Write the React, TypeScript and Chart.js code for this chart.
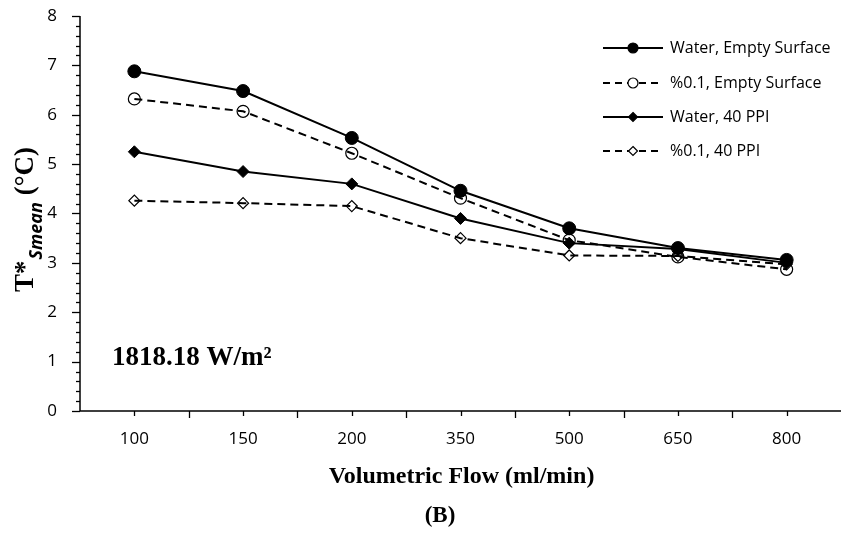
import React, { useEffect, useRef } from "react";
import { Chart, registerables } from "chart.js";

Chart.register(...registerables);

const categories = ["100", "150", "200", "350", "500", "650", "800"];
const waterEmpty = [6.88, 6.48, 5.53, 4.46, 3.7, 3.3, 3.06];
const nanoEmpty = [6.32, 6.07, 5.22, 4.31, 3.46, 3.12, 2.87];
const water40 = [5.25, 4.85, 4.6, 3.9, 3.4, 3.28, 3.0];
const nano40 = [4.26, 4.21, 4.15, 3.5, 3.15, 3.14, 2.97];
const seriesNames = ["Water, Empty Surface", "%0.1, Empty Surface", "Water, 40 PPI", "%0.1, 40 PPI"];
const yMin = 0;
const yMax = 8;
const annotationText = "1818.18 W/m²";
const xTitle = "Volumetric Flow (ml/min)";
const yTitleMain = "T*";
const yTitleSub = "Smean";
const yTitleUnit = " (°C)";
const panelLabel = "(B)";

const SERIF = '"Liberation Serif", "Times New Roman", serif';
const SANS = '"Open Sans", "Liberation Sans", sans-serif';

function drawMarker(ctx: CanvasRenderingContext2D, style: string, x: number, y: number, r: number, fill: string, stroke: string, lw: number) {
  ctx.save();
  ctx.beginPath();
  if (style === "circle") {
    ctx.arc(x, y, r, 0, Math.PI * 2);
  } else {
    ctx.moveTo(x, y - r);
    ctx.lineTo(x + r, y);
    ctx.lineTo(x, y + r);
    ctx.lineTo(x - r, y);
    ctx.closePath();
  }
  if (fill !== "transparent") {
    ctx.fillStyle = fill;
    ctx.fill();
  }
  ctx.lineWidth = lw;
  ctx.strokeStyle = stroke;
  ctx.stroke();
  ctx.restore();
}

const decorPlugin = {
  id: "decor",
  afterDraw(chart: any) {
    const ctx: CanvasRenderingContext2D = chart.ctx;
    const { left, right, top, bottom } = chart.chartArea;
    const xs = chart.scales.x;
    const ys = chart.scales.y;
    ctx.save();
    ctx.strokeStyle = "#000";
    ctx.lineWidth = 1.5;
    ctx.beginPath();
    ctx.moveTo(left, top);
    ctx.lineTo(left, bottom);
    ctx.lineTo(right, bottom);
    ctx.stroke();
    ctx.lineWidth = 1.3;
    for (let v = yMin; v <= yMax + 1e-9; v += 0.2) {
      const py = Math.round(ys.getPixelForValue(v)) + 0.5;
      const major = Math.abs(v - Math.round(v)) < 1e-6;
      ctx.beginPath();
      ctx.moveTo(left - (major ? 8 : 4), py);
      ctx.lineTo(left, py);
      ctx.stroke();
    }
    const n = categories.length;
    const half = (xs.getPixelForValue(1) - xs.getPixelForValue(0)) / 2;
    for (let i = 0; i < n; i++) {
      const px = xs.getPixelForValue(i);
      ctx.beginPath();
      ctx.moveTo(Math.round(px) + 0.5, bottom);
      ctx.lineTo(Math.round(px) + 0.5, bottom + 5);
      ctx.stroke();
      const bx = Math.round(px - half) + 0.5;
      if (i > 0) {
        ctx.beginPath();
        ctx.moveTo(bx, bottom);
        ctx.lineTo(bx, bottom + 7);
        ctx.stroke();
      }
    }
    ctx.restore();

    ctx.save();
    ctx.fillStyle = "#000";
    ctx.translate(33, 292);
    ctx.rotate(-Math.PI / 2);
    ctx.textBaseline = "alphabetic";
    ctx.textAlign = "left";
    ctx.font = `bold 27px ${SERIF}`;
    ctx.fillText(yTitleMain, 0, 0);
    let w = ctx.measureText(yTitleMain).width;
    ctx.font = `italic bold 18px ${SANS}`;
    ctx.fillText(yTitleSub, w + 1, 9);
    w += 1 + ctx.measureText(yTitleSub).width;
    ctx.font = `bold 27px ${SERIF}`;
    ctx.fillText(yTitleUnit, w, 0);
    ctx.restore();

    ctx.save();
    ctx.fillStyle = "#000";
    ctx.textAlign = "center";
    ctx.textBaseline = "alphabetic";
    ctx.font = `bold 24px ${SERIF}`;
    ctx.fillText(xTitle, (left + right) / 2 + 1, 483);
    ctx.font = `bold 23px ${SERIF}`;
    ctx.fillText(panelLabel, 440, 522);
    ctx.textAlign = "left";
    ctx.font = `bold 27px ${SERIF}`;
    ctx.fillText(annotationText, 112, 365);
    ctx.restore();

    ctx.save();
    const rows = [48, 83, 117, 151];
    chart.data.datasets.forEach((ds: any, i: number) => {
      const y = rows[i];
      ctx.save();
      ctx.strokeStyle = "#000";
      ctx.lineWidth = 2;
      ctx.setLineDash(ds.borderDash && ds.borderDash.length ? [7, 5] : []);
      ctx.beginPath();
      ctx.moveTo(603, y);
      ctx.lineTo(663, y);
      ctx.stroke();
      ctx.restore();
      const r = ds.pointStyle === "circle" ? 5 : 4.5;
      drawMarker(ctx, ds.pointStyle, 633, y, r, ds.pointBackgroundColor === "transparent" ? "#fff" : "#000", "#000", 1.2);
      ctx.fillStyle = "#000";
      ctx.font = `16px ${SANS}`;
      ctx.textAlign = "left";
      ctx.textBaseline = "middle";
      ctx.fillText(ds.label, 670, y);
    });
    ctx.restore();
  },
};

export default function App() {
  const canvasRef = useRef<HTMLCanvasElement | null>(null);
  useEffect(() => {
    if (!canvasRef.current) return;
    const chart = new Chart(canvasRef.current, {
      type: "line",
      data: {
        labels: categories,
        datasets: [
          {
            label: seriesNames[0],
            data: waterEmpty,
            borderColor: "#000",
            borderWidth: 2,
            pointStyle: "circle",
            pointRadius: 6.5,
            pointBackgroundColor: "#000",
            pointBorderColor: "#000",
            pointBorderWidth: 1,
            tension: 0,
          },
          {
            label: seriesNames[1],
            data: nanoEmpty,
            borderColor: "#000",
            borderWidth: 2,
            borderDash: [8, 5],
            pointStyle: "circle",
            pointRadius: 6,
            pointBackgroundColor: "transparent",
            pointBorderColor: "#000",
            pointBorderWidth: 1.2,
            tension: 0,
          },
          {
            label: seriesNames[2],
            data: water40,
            borderColor: "#000",
            borderWidth: 2,
            pointStyle: "rectRot",
            pointRadius: 6,
            pointBackgroundColor: "#000",
            pointBorderColor: "#000",
            pointBorderWidth: 1,
            tension: 0,
          },
          {
            label: seriesNames[3],
            data: nano40,
            borderColor: "#000",
            borderWidth: 2,
            borderDash: [8, 5],
            pointStyle: "rectRot",
            pointRadius: 5.5,
            pointBackgroundColor: "transparent",
            pointBorderColor: "#000",
            pointBorderWidth: 1.2,
            tension: 0,
          },
        ],
      },
      options: {
        responsive: false,
        animation: false,
        layout: { autoPadding: false, padding: { left: 0, right: 0, top: 16, bottom: 0 } },
        plugins: { legend: { display: false }, tooltip: { enabled: false } },
        scales: {
          x: {
            type: "category",
            offset: true,
            grid: { display: false, drawTicks: false },
            border: { display: false },
            ticks: { color: "#000", font: { family: SANS, size: 17 }, padding: 18, maxRotation: 0 },
            afterFit: (s: any) => {
              s.height = 122;
              s.paddingLeft = 0;
              s.paddingRight = 0;
            },
          },
          y: {
            min: yMin,
            max: yMax,
            grid: { display: false, drawTicks: false },
            border: { display: false },
            ticks: { stepSize: 1, color: "#000", font: { family: SANS, size: 17 }, padding: 23 },
            afterFit: (s: any) => {
              s.width = 80;
              s.paddingTop = 0;
              s.paddingBottom = 0;
            },
          },
        },
      },
      plugins: [decorPlugin],
    } as any);
    return () => chart.destroy();
  }, []);
  return (
    <div style={{ position: "absolute", left: 0, top: 0, width: 841, height: 533, background: "#fff" }}>
      <canvas ref={canvasRef} width={841} height={533} style={{ display: "block" }} />
    </div>
  );
}
